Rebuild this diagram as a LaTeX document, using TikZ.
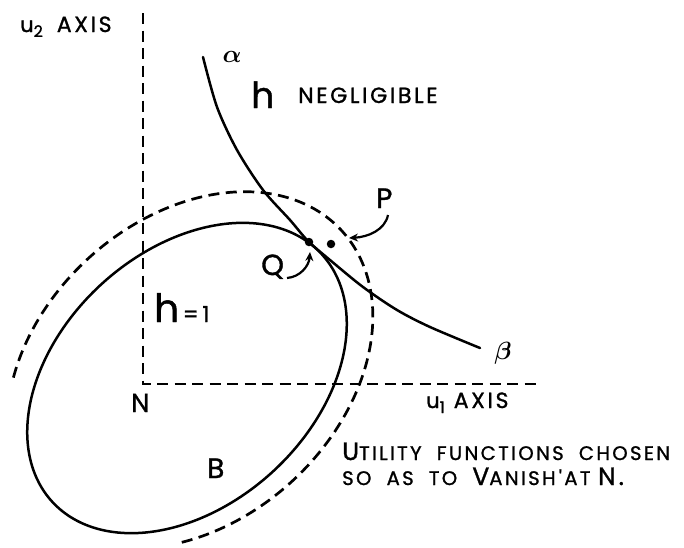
\documentclass[tikz,border=0pt]{standalone}
\usepackage{fontspec}
\usepackage{bm}
\setmainfont{Poppins}[FakeBold=1.2]
\newfontfamily\lett[LetterSpace=12,FakeBold=1.2]{Poppins}
\usetikzlibrary{arrows.meta}
\tikzset{
  curve/.style={line width=2.5pt, line cap=round, line join=round},
  dashline/.style={line width=2.7pt, dash pattern=on 11pt off 6.5pt},
  lbl/.style={inner sep=0pt, anchor=base west},
  pointer/.style={line width=2.2pt, -{Stealth[length=9pt,width=8pt]}},
  dot/.style={circle, fill=black, inner sep=0pt, minimum size=8.5pt}
}
\newcommand\bigsz{\fontsize{25}{28}\selectfont}
\newcommand\smsz{\fontsize{19.6}{24}\selectfont}
\newcommand\axsz{\fontsize{22}{24}\selectfont}
\begin{document}
\begin{tikzpicture}[x=1pt,y=-1pt]
\useasboundingbox (0,0) rectangle (684,547);
% axes
\coordinate (N) at (143,384);
\coordinate (top) at (143,13);
\coordinate (right) at (536,384);
\draw[dashline] (top) -- (N) -- (right);
% solid ellipse B: centre (187,378), a=183, b=127, tilt 42.6 deg
\draw[curve] plot[domain=0:360, samples=120, smooth cycle]
  ({187 + 183*cos(\x)*cos(42.6) - 127*sin(\x)*sin(42.6)},
   {378 - (183*cos(\x)*sin(42.6) + 127*sin(\x)*cos(42.6))});
% dashed ellipse arc: centre (190,370), a=206, b=151
\draw[dashline] plot[domain=131:-128, samples=100, smooth]
  ({190 + 206*cos(\x)*cos(42.6) - 151*sin(\x)*sin(42.6)},
   {370 - (206*cos(\x)*sin(42.6) + 151*sin(\x)*cos(42.6))});
% hyperbola alpha-beta
\draw[curve] plot[smooth] coordinates {(203,57) (217,107) (237,150) (263,190) (290,220) (308,241) (330,260) (363,287) (397,310) (430,327) (480,348)};
% points
\node[dot] (Qdot) at (309,242) {};
\node[dot] (Pdot) at (331,244) {};
% labels
\node[lbl] (u2) at (20,32) {\fontsize{21}{24}\selectfont u\raisebox{-5pt}{\fontsize{16}{18}\selectfont 2}\hspace{14pt}\axsz\lett AXIS};
\node[inner sep=0pt] (alpha) at (232,57) {\fontsize{31}{32}\selectfont$\bm{\alpha}$};
\node[lbl] (hneg) at (251,108) {\fontsize{36}{38}\selectfont h};
\node[lbl] (negl) at (298,103) {\fontsize{22}{24}\selectfont\lett NEGLIGIBLE};
\node[lbl] (Plab) at (376,208) {\fontsize{28}{30}\selectfont P};
\node[lbl] (Qlab) at (261,275) {\fontsize{29}{30}\selectfont Q};
\node[lbl] (hone) at (154,322) {\fontsize{39}{40}\selectfont h\fontsize{22}{24}\selectfont\,=\,1};
\node[inner sep=0pt] (beta) at (503,353) {\fontsize{24}{26}\selectfont$\bm{\beta}$};
\node[lbl] (Nlab) at (131,412) {\fontsize{26}{28}\selectfont N};
\node[lbl] (u1) at (426,408) {\fontsize{21}{24}\selectfont u\raisebox{-5pt}{\fontsize{16}{18}\selectfont 1}\hspace{9pt}\axsz\lett AXIS};
\node[lbl] (Blab) at (207,478) {\fontsize{28}{30}\selectfont B};
\node[lbl] (util1) at (342,460) {\lett\bigsz U\smsz TILITY\ \ FUNCTIONS\ \ CHOSEN};
\node[lbl] (util2) at (342,485) {\lett\smsz SO\ \ AS\ \ TO\ \ \bigsz V\smsz ANISH\,'AT\ \bigsz N.};
% pointers
\coordinate (Pstart) at (388,215);
\coordinate (Pend) at (349,238);
\draw[pointer] (Pstart) .. controls (385,230) and (368,237) .. (Pend);
\coordinate (Qstart) at (287,278);
\coordinate (Qend) at (310,252);
\draw[pointer] (Qstart) .. controls (300,277) and (309,266) .. (Qend);
\end{tikzpicture}
\end{document}
